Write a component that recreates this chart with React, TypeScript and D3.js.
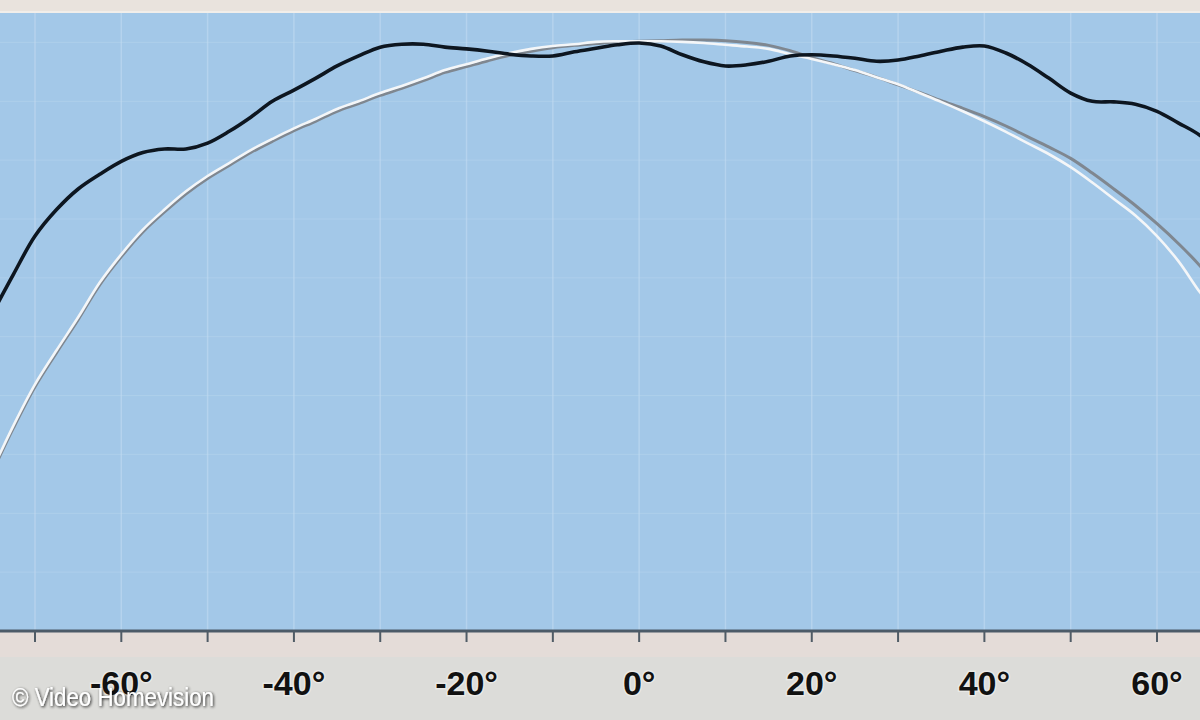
import React from "react";
import * as d3 from "d3";

// Viewing angle (degrees)
const angles = [
  -75, -72.5, -70, -67.5, -65, -62.5, -60, -57.5, -55, -52.5, -50, -47.5, -45, -42.5, -40, -37.5,
  -35, -32.5, -30, -27.5, -25, -22.5, -20, -17.5, -15, -12.5, -10, -7.5, -5, -2.5, 0, 2.5, 5, 7.5,
  10, 12.5, 15, 17.5, 20, 22.5, 25, 27.5, 30, 32.5, 35, 37.5, 40, 42.5, 45, 47.5, 50, 52.5, 55,
  57.5, 60, 62.5, 65, 67.5,
];

// Measured luminance (black curve), relative %
const measured = [
  53.8, 60.6, 67.1, 71.6, 75.1, 77.6, 79.8, 81.3, 81.9, 81.9, 82.9, 84.9, 87.3, 90.0, 91.9, 93.9,
  96.0, 97.7, 99.2, 99.7, 99.7, 99.2, 98.9, 98.5, 98.0, 97.7, 97.7, 98.4, 99.0, 99.6, 99.9, 99.4,
  97.9, 96.7, 96.0, 96.2, 96.8, 97.7, 97.9, 97.7, 97.3, 96.8, 97.0, 97.7, 98.5, 99.2, 99.4, 98.2,
  96.3, 93.9, 91.4, 90.0, 89.9, 89.5, 88.3, 86.3, 84.2, 81.0,
];

// Reference curve (white)
const referenceA = [
  27.2, 34.9, 41.9, 47.7, 53.3, 59.2, 64.0, 68.2, 71.6, 74.7, 77.3, 79.5, 81.7, 83.6, 85.4, 87.0,
  88.7, 90.0, 91.4, 92.6, 93.9, 95.3, 96.3, 97.3, 98.2, 98.9, 99.4, 99.7, 100.1, 100.2, 100.2, 100.2,
  100.1, 99.9, 99.6, 99.3, 98.9, 98.0, 97.2, 96.3, 95.3, 94.1, 92.9, 91.4, 89.9, 88.3, 86.6, 84.8,
  82.9, 81.0, 78.8, 76.2, 73.4, 70.6, 67.1, 62.8, 57.5, 52.9,
];

// Reference curve (grey)
const referenceB = [
  26.8, 34.5, 41.5, 47.3, 52.9, 58.8, 63.6, 67.8, 71.2, 74.3, 76.9, 79.1, 81.3, 83.2, 85.0, 86.6,
  88.3, 89.6, 91.0, 92.2, 93.5, 94.9, 95.9, 96.9, 97.8, 98.5, 99.1, 99.5, 99.8, 100.1, 100.2, 100.3,
  100.4, 100.4, 100.3, 100.0, 99.5, 98.6, 97.4, 96.4, 95.2, 94.1, 92.8, 91.5, 90.1, 88.8, 87.4, 85.8,
  84.0, 82.2, 80.3, 77.8, 75.1, 72.3, 69.2, 65.8, 62.0, 57.2,
];

const tickValues = [-70, -60, -50, -40, -30, -20, -10, 0, 10, 20, 30, 40, 50, 60];
const labelValues = [-60, -40, -20, 0, 20, 40, 60];
const hGrid = [10, 20, 30, 40, 50, 60, 70, 80, 90, 100];

const W = 1200;
const H = 720;
const plotTop = 13;
const plotBottom = 631;

export default function App() {
  const x = d3.scaleLinear().domain([-70, 60]).range([35, 1157]);
  const y = d3.scaleLinear().domain([0, 105]).range([plotBottom, plotTop]);

  const line = d3
    .line<number>()
    .x((_, i) => x(angles[i]))
    .y((d) => y(d))
    .curve(d3.curveCatmullRom.alpha(0.5));

  return (
    <svg
      width={W}
      height={H}
      style={{ position: "fixed", left: 0, top: 0, display: "block" }}
      fontFamily="'Liberation Sans', Arial, sans-serif"
    >
      <defs>
        <clipPath id="plotClip">
          <rect x={0} y={plotTop} width={W} height={plotBottom - plotTop} />
        </clipPath>
        <filter id="shadow" x="-10%" y="-30%" width="120%" height="160%">
          <feGaussianBlur in="SourceAlpha" stdDeviation="1.6" />
          <feOffset dx="1" dy="1" result="b" />
          <feComponentTransfer>
            <feFuncA type="linear" slope="0.9" />
          </feComponentTransfer>
          <feMerge>
            <feMergeNode />
            <feMergeNode in="SourceGraphic" />
          </feMerge>
        </filter>
      </defs>

      {/* backgrounds */}
      <rect x={0} y={0} width={W} height={H} fill="#dcdcd9" />
      <rect x={0} y={0} width={W} height={plotTop} fill="#e9e3dd" />
      <rect x={0} y={plotTop - 2} width={W} height={2} fill="#f1eeea" />
      <rect x={0} y={plotBottom} width={W} height={26} fill="#e4dcd8" />
      <rect x={0} y={plotTop} width={W} height={plotBottom - plotTop} fill="#a3c8e8" />

      {/* faint grid */}
      <g clipPath="url(#plotClip)">
        {tickValues.map((t) => (
          <line
            key={"vg" + t}
            x1={x(t)}
            x2={x(t)}
            y1={plotTop}
            y2={plotBottom}
            stroke="#c4ddf2"
            strokeWidth={1.5}
            strokeOpacity={0.55}
          />
        ))}
        {hGrid.map((v) => (
          <line
            key={"hg" + v}
            x1={0}
            x2={W}
            y1={y(v)}
            y2={y(v)}
            stroke="#c4ddf2"
            strokeWidth={1}
            strokeOpacity={0.35}
          />
        ))}
      </g>

      {/* curves */}
      <g clipPath="url(#plotClip)" fill="none" strokeLinecap="round" strokeLinejoin="round">
        <path d={line(referenceB) || ""} stroke="#7f8790" strokeWidth={3} />
        <path d={line(referenceA) || ""} stroke="#f4f6f8" strokeWidth={2.6} />
        <path d={line(measured) || ""} stroke="#0d1620" strokeWidth={3.6} />
      </g>

      {/* x axis */}
      <line x1={0} x2={W} y1={plotBottom} y2={plotBottom} stroke="#4c5b68" strokeWidth={3} />
      {tickValues.map((t) => (
        <line
          key={"tk" + t}
          x1={x(t)}
          x2={x(t)}
          y1={plotBottom}
          y2={plotBottom + 11}
          stroke="#505c66"
          strokeWidth={2}
        />
      ))}
      {labelValues.map((t) => (
        <text
          key={"lb" + t}
          x={x(t)}
          y={695}
          textAnchor="middle"
          fontSize={34}
          fontWeight="bold"
          fill="#111"
          stroke="#f2f2f0"
          strokeWidth={3}
          strokeOpacity={0.6}
          style={{ paintOrder: "stroke" }}
        >
          {`${t}°`}
        </text>
      ))}

      {/* copyright */}
      <text
        x={12}
        y={706}
        fontSize={25}
        textLength={202}
        lengthAdjust="spacingAndGlyphs"
        fill="#ffffff"
        filter="url(#shadow)"
      >
        © Video Homevision
      </text>
    </svg>
  );
}
